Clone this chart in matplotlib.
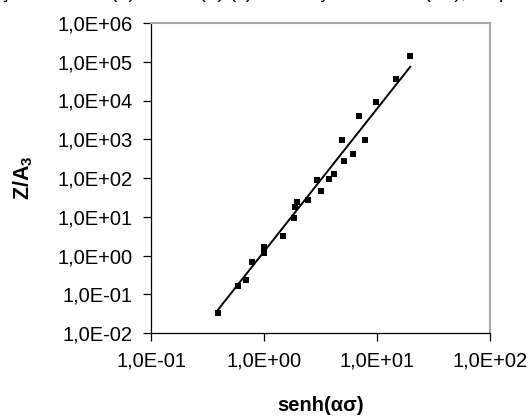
import numpy as np
import matplotlib
matplotlib.use("Agg")
import matplotlib.pyplot as plt
from matplotlib.ticker import FuncFormatter, NullLocator

plt.rcParams['font.family'] = ['Liberation Sans', 'DejaVu Sans']
plt.rcParams['mathtext.fontset'] = 'custom'
plt.rcParams['mathtext.rm'] = 'Liberation Sans'
plt.rcParams['mathtext.bf'] = 'Liberation Sans:bold'

# data
senh_as = [0.394, 0.593, 0.689, 0.787, 0.994, 0.994, 1.48, 1.84, 1.89, 1.97,
           2.47, 2.94, 3.18, 3.78, 4.14, 4.93, 5.14, 6.13, 6.88, 7.88,
           9.86, 14.8, 19.7]
z_a3 = [0.0334, 0.166, 0.238, 0.667, 1.66, 1.18, 3.24, 9.1, 17.5, 24.5,
        27.5, 88.8, 46.2, 94.3, 129, 938, 269, 425, 3900, 938,
        9150, 35900, 140600]

# power-law trend line  Z/A3 = A * senh(ασ)^n
fit_A = 1.26
fit_n = 3.686

x_ticks = [0.1, 1, 10, 100]
y_ticks = [1e-2, 1e-1, 1e0, 1e1, 1e2, 1e3, 1e4, 1e5, 1e6]

fig = plt.figure(figsize=(5.30, 4.18), dpi=100)
ax = fig.add_axes([151/530, 1-333/418, 339/530, 310/418])

ax.set_xscale('log')
ax.set_yscale('log')

xs = np.array(senh_as)
xl = np.array([xs.min(), xs.max()])
ax.plot(xl, fit_A * xl ** fit_n, color='black', lw=1.4, zorder=2)
ax.plot(senh_as, z_a3, linestyle='none', marker='s', markersize=4.9,
        color='black', markeredgewidth=0, zorder=3)

def fmt(v, pos):
    k = int(round(np.log10(v)))
    return f"1,0E{k:+03d}"

ax.set_xticks(x_ticks)
ax.set_yticks(y_ticks)
ax.xaxis.set_minor_locator(NullLocator())
ax.yaxis.set_minor_locator(NullLocator())
ax.xaxis.set_major_formatter(FuncFormatter(fmt))
ax.yaxis.set_major_formatter(FuncFormatter(fmt))
ax.set_xlim(0.1, 100)
ax.set_ylim(1e-2, 1e6)

ax.tick_params(axis='both', direction='out', length=5.5, width=0.9,
               labelsize=14.5, color='black', labelcolor='black')
ax.tick_params(axis='y', pad=7.5)
ax.tick_params(axis='x', pad=8)

for s in ['left', 'bottom']:
    ax.spines[s].set_color('black')
    ax.spines[s].set_linewidth(0.9)
for s in ['top', 'right']:
    ax.spines[s].set_color('#a8a8a8')
    ax.spines[s].set_linewidth(1.5)

ax.set_xlabel('senh(ασ)', fontsize=14.5, fontweight='bold')
ax.xaxis.label.set_va('baseline')
ax.xaxis.set_label_coords(0.5, (333-411)/310)

ax.set_ylabel(r'$\mathbf{Z/A_3}$', fontsize=15.5)
ax.yaxis.label.set_va('center')
ax.yaxis.set_label_coords((23-151)/339, 0.5)

# caption fragment cut off at the top of the image (only its lower edge shows)
fig.text(0.0, 1 + 1.5/418, 'ção de Z/A3 (a) e de ln(Z) (c) em função de senh(ασ), respectivamente',
         fontsize=14, va='baseline', ha='left', color='black',
         family='Liberation Sans')

fig.savefig('out.png', dpi=100)
